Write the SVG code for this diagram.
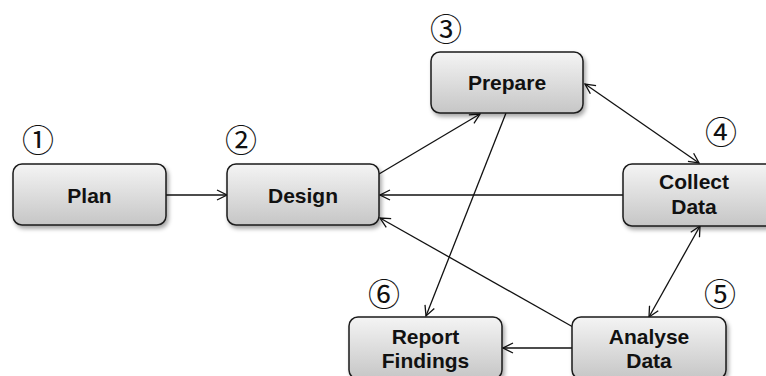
<svg xmlns="http://www.w3.org/2000/svg" width="766" height="376" viewBox="0 0 766 376">
<style>
.box{fill:url(#g);stroke:#1a1a1a;stroke-width:1.5;filter:url(#sh)}
.lbl{font-family:"Liberation Sans",Arial,sans-serif;font-weight:bold;font-size:21px;fill:#111;text-anchor:middle}
.num{font-family:"Noto Sans CJK JP","DejaVu Sans",sans-serif;font-size:32px;fill:#111;text-anchor:middle}
.e{stroke:#111;stroke-width:1.3;fill:none}
</style>
<defs>
<linearGradient id="g" x1="0" y1="0" x2="0" y2="1">
<stop offset="0" stop-color="#f4f4f4"/>
<stop offset="1" stop-color="#c6c6c6"/>
</linearGradient>
<filter id="sh" x="-20%" y="-20%" width="140%" height="150%">
<feDropShadow dx="2" dy="3" stdDeviation="2" flood-color="#000" flood-opacity="0.35"/>
</filter>
<marker id="a" viewBox="0 0 12 12" refX="11" refY="6" markerWidth="12" markerHeight="12" markerUnits="userSpaceOnUse" orient="auto-start-reverse">
<path d="M1,1 L11,6 L1,11" fill="none" stroke="#111" stroke-width="1.3"/>
</marker>
</defs>
<g id="connectors">
<line class="e" x1="166" y1="195" x2="227" y2="195" marker-end="url(#a)"/>
<line class="e" x1="379" y1="174" x2="480" y2="114" marker-end="url(#a)"/>
<line class="e" x1="585" y1="84" x2="699" y2="163" marker-start="url(#a)" marker-end="url(#a)"/>
<line class="e" x1="623" y1="195" x2="380" y2="195" marker-end="url(#a)"/>
<line class="e" x1="506" y1="113" x2="426" y2="316" marker-end="url(#a)"/>
<line class="e" x1="700" y1="226" x2="649" y2="317" marker-start="url(#a)" marker-end="url(#a)"/>
<line class="e" x1="573" y1="327" x2="380" y2="218" marker-end="url(#a)"/>
<line class="e" x1="572" y1="348" x2="503" y2="348" marker-end="url(#a)"/>
</g>
<g id="plan">
<rect class="box" x="13" y="164" width="153" height="61" rx="9"/>
<text class="lbl" x="89.5" y="203">Plan</text>
<text class="num" x="38" y="152">①</text>
</g>
<g id="design">
<rect class="box" x="227" y="164" width="152" height="61" rx="9"/>
<text class="lbl" x="303" y="203">Design</text>
<text class="num" x="241" y="152">②</text>
</g>
<g id="prepare">
<rect class="box" x="431" y="52" width="152" height="61" rx="9"/>
<text class="lbl" x="507" y="90">Prepare</text>
<text class="num" x="446" y="41">③</text>
</g>
<g id="collect">
<rect class="box" x="623" y="164" width="152" height="62" rx="9"/>
<text class="lbl" x="694" y="189">Collect</text>
<text class="lbl" x="694" y="214">Data</text>
<text class="num" x="721" y="144">④</text>
</g>
<g id="analyse">
<rect class="box" x="572" y="317" width="154" height="62" rx="9"/>
<text class="lbl" x="649" y="344">Analyse</text>
<text class="lbl" x="649" y="368">Data</text>
<text class="num" x="720" y="306">⑤</text>
</g>
<g id="report">
<rect class="box" x="349" y="317" width="153" height="62" rx="9"/>
<text class="lbl" x="425.5" y="344">Report</text>
<text class="lbl" x="425.5" y="368">Findings</text>
<text class="num" x="384" y="306">⑥</text>
</g>
</svg>
